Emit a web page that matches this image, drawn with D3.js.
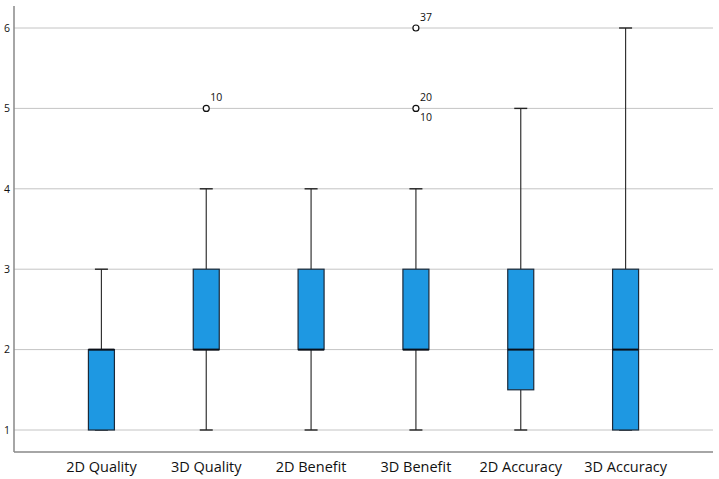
<!DOCTYPE html>
<html>
<head>
<meta charset="utf-8">
<script src="https://cdn.jsdelivr.net/npm/d3@7"></script>
<style>
  body { margin: 0; background: #fff; }
  text { font-family: "Open Sans", "DejaVu Sans", sans-serif; fill: #111; }
</style>
</head>
<body>
<svg id="chart" width="719" height="479"></svg>
<script>
// boxplot summaries
const categories = ['2D Quality', '3D Quality', '2D Benefit', '3D Benefit', '2D Accuracy', '3D Accuracy']
const whiskerLow = [1, 1, 1, 1, 1, 1]
const quartile1 = [1, 2, 2, 2, 1.5, 1]
const medians = [2, 2, 2, 2, 2, 2]
const quartile3 = [2, 3, 3, 3, 3, 3]
const whiskerHigh = [3, 4, 4, 4, 5, 6]
// outliers: category, value, case label, label side
const outliers = [
  { cat: '3D Quality', value: 5, label: '10', pos: 'above' },
  { cat: '3D Benefit', value: 6, label: '37', pos: 'above' },
  { cat: '3D Benefit', value: 5, label: '20', pos: 'above' },
  { cat: '3D Benefit', value: 5, label: '10', pos: 'below' },
]
const yTicks = [1, 2, 3, 4, 5, 6]

const svg = d3.select('#chart')
const plotLeft = 14, plotRight = 713, plotTop = 6, plotBottom = 452

const y = d3.scaleLinear().domain([1, 6]).range([430, 28])
const x = d3.scaleBand().domain(categories).range([49, 678]).paddingInner(0.75).paddingOuter(0.375)
const boxW = 26, capW = 13

// gridlines
svg.append('g')
  .selectAll('line')
  .data(yTicks)
  .join('line')
  .attr('x1', plotLeft)
  .attr('x2', plotRight)
  .attr('y1', d => y(d))
  .attr('y2', d => y(d))
  .attr('stroke', '#c4c4c4')
  .attr('stroke-width', 1)

// y axis
const yAxis = svg.append('g')
  .attr('transform', `translate(${plotLeft},0)`)
  .call(d3.axisLeft(y).tickValues(yTicks).tickSize(0).tickPadding(4).tickFormat(d3.format('d')))
yAxis.select('.domain').remove()
yAxis.selectAll('text').attr('font-size', 10.5)
svg.append('line')
  .attr('x1', plotLeft).attr('x2', plotLeft)
  .attr('y1', plotTop).attr('y2', plotBottom)
  .attr('stroke', '#888').attr('stroke-width', 1.5)

// x axis
const xAxis = svg.append('g')
  .attr('transform', `translate(0,${plotBottom})`)
  .call(d3.axisBottom(x).tickSize(0).tickPadding(10))
xAxis.select('.domain').remove()
xAxis.selectAll('text').attr('font-size', 14.5)
svg.append('line')
  .attr('x1', plotLeft).attr('x2', plotRight)
  .attr('y1', plotBottom).attr('y2', plotBottom)
  .attr('stroke', '#888').attr('stroke-width', 1.5)

const boxes = categories.map((c, i) => ({
  cat: c,
  lo: whiskerLow[i],
  q1: quartile1[i],
  med: medians[i],
  q3: quartile3[i],
  hi: whiskerHigh[i],
}))

const cx = d => x(d.cat) + x.bandwidth() / 2

const g = svg.append('g').selectAll('g').data(boxes).join('g')

// whiskers
g.append('line')
  .attr('x1', cx).attr('x2', cx)
  .attr('y1', d => y(d.hi)).attr('y2', d => y(d.q3))
  .attr('stroke', '#333').attr('stroke-width', 1.2)
g.append('line')
  .attr('x1', cx).attr('x2', cx)
  .attr('y1', d => y(d.q1)).attr('y2', d => y(d.lo))
  .attr('stroke', '#333').attr('stroke-width', 1.2)
g.append('line')
  .attr('x1', d => cx(d) - capW / 2).attr('x2', d => cx(d) + capW / 2)
  .attr('y1', d => y(d.hi)).attr('y2', d => y(d.hi))
  .attr('stroke', '#222').attr('stroke-width', 1.4)
g.append('line')
  .attr('x1', d => cx(d) - capW / 2).attr('x2', d => cx(d) + capW / 2)
  .attr('y1', d => y(d.lo)).attr('y2', d => y(d.lo))
  .attr('stroke', '#222').attr('stroke-width', 1.4)

// boxes
g.append('rect')
  .attr('x', d => cx(d) - boxW / 2)
  .attr('width', boxW)
  .attr('y', d => y(d.q3))
  .attr('height', d => y(d.q1) - y(d.q3))
  .attr('fill', '#1e98e2')
  .attr('stroke', '#1b2a3a')
  .attr('stroke-width', 1.2)

// medians
g.append('line')
  .attr('x1', d => cx(d) - boxW / 2).attr('x2', d => cx(d) + boxW / 2)
  .attr('y1', d => y(d.med)).attr('y2', d => y(d.med))
  .attr('stroke', '#0a0f18').attr('stroke-width', 2)

// outliers
const oc = d => x(d.cat) + x.bandwidth() / 2
svg.append('g').selectAll('circle')
  .data(outliers.filter((d, i, a) => a.findIndex(o => o.cat === d.cat && o.value === d.value) === i))
  .join('circle')
  .attr('cx', oc)
  .attr('cy', d => y(d.value))
  .attr('r', 3)
  .attr('fill', '#fff')
  .attr('stroke', '#111')
  .attr('stroke-width', 1.2)

svg.append('g').selectAll('text')
  .data(outliers)
  .join('text')
  .attr('x', d => oc(d) + 4)
  .attr('y', d => y(d.value) + (d.pos === 'above' ? -7 : 13))
  .attr('font-size', 10.5)
  .text(d => d.label)
</script>
</body>
</html>
